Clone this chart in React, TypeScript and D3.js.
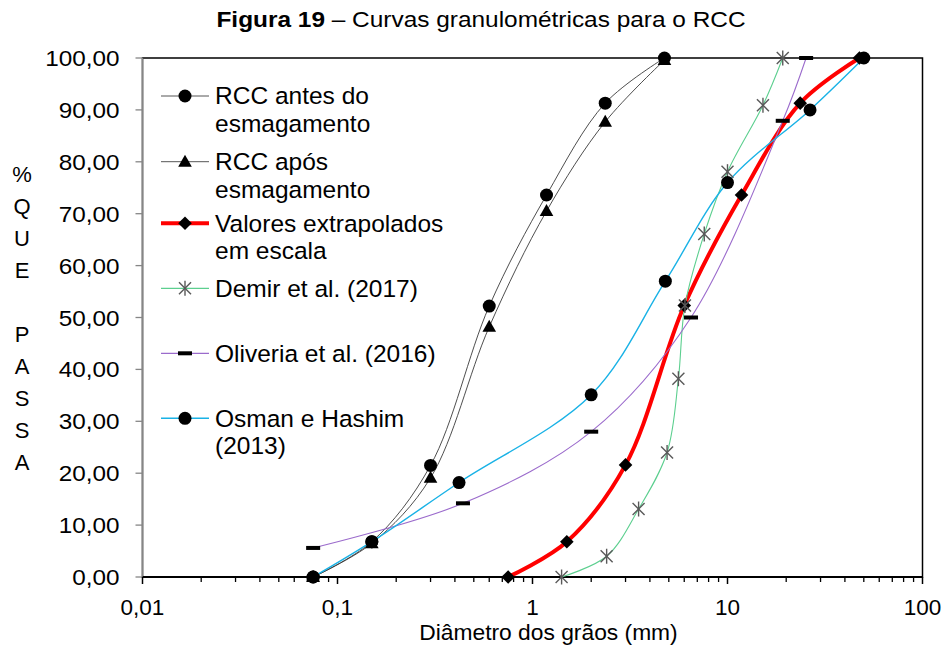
import React from "react";
import * as d3 from "d3";

// ---- Data ----
const rccDiam = [0.075, 0.15, 0.3, 0.6, 1.18, 2.36, 4.75];
const rccAntes = [0, 6.8, 21.5, 52.2, 73.6, 91.3, 100];
const rccApos = [0, 6.5, 19.1, 48.2, 70.5, 87.7, 99.6];
const extrapDiam = [0.75, 1.5, 3, 6, 11.8, 23.6, 47.5];
const extrapVal = [0, 6.8, 21.6, 52.3, 73.6, 91.3, 100];
const demirDiam = [1.41, 2.4, 3.5, 4.9, 5.6, 6.05, 7.6, 10, 15.2, 19.2];
const demirVal = [0, 4, 13.1, 24, 38.2, 52.3, 66.1, 78.1, 90.9, 100];
const oliveiraDiam = [0.075, 0.44, 2, 6.5, 19.2, 25.3];
const oliveiraVal = [5.6, 14.2, 28, 50, 87.9, 100];
const osmanDiam = [0.075, 0.15, 0.42, 2, 4.8, 10, 26.5, 50];
const osmanVal = [0, 6.8, 18.2, 35.1, 57, 76, 90, 100];

const xMajor = [0.01, 0.1, 1, 10, 100];
const xMajorLabels = ["0,01", "0,1", "1", "10", "100"];
const yTicks = [0, 10, 20, 30, 40, 50, 60, 70, 80, 90, 100];
const yTitle = ["%", "Q", "U", "E", "", "P", "A", "S", "S", "A"];

const legendLabels = [
  ["RCC antes do", "esmagamento"],
  ["RCC após", "esmagamento"],
  ["Valores extrapolados", "em escala"],
  ["Demir et al. (2017)"],
  ["Oliveria et al. (2016)"],
  ["Osman e Hashim", "(2013)"],
];

const FONT = "Arial, 'Liberation Sans', Helvetica, sans-serif";

type Marker = "circle" | "triangle" | "diamond" | "asterisk" | "dash";

function MarkerShape({ type, x, y }: { type: Marker; x: number; y: number }) {
  if (type === "circle") return <circle cx={x} cy={y} r={6.5} fill="#000" />;
  if (type === "triangle")
    return <path d={`M${x},${y - 7}L${x + 6.8},${y + 5}L${x - 6.8},${y + 5}Z`} fill="#000" />;
  if (type === "diamond")
    return <path d={`M${x},${y - 6.8}L${x + 6.8},${y}L${x},${y + 6.8}L${x - 6.8},${y}Z`} fill="#000" />;
  if (type === "dash") return <rect x={x - 7} y={y - 2} width={14} height={4} fill="#000" />;
  return (
    <g stroke="#595959" strokeWidth={1.4}>
      <line x1={x - 6} y1={y - 6} x2={x + 6} y2={y + 6} />
      <line x1={x - 6} y1={y + 6} x2={x + 6} y2={y - 6} />
      <line x1={x} y1={y - 7.5} x2={x} y2={y + 7.5} />
    </g>
  );
}

export default function App() {
  const left = 142.5, right = 922.5, top = 58, bottom = 577;
  const x = d3.scaleLog().domain([0.01, 100]).range([left, right]);
  const y = d3.scaleLinear().domain([0, 100]).range([bottom, top]);

  const series: { d: number[]; v: number[]; color: string; width: number; marker: Marker }[] = [
    { d: rccDiam, v: rccAntes, color: "#3a3a3a", width: 0.9, marker: "circle" },
    { d: rccDiam, v: rccApos, color: "#3a3a3a", width: 0.9, marker: "triangle" },
    { d: extrapDiam, v: extrapVal, color: "#ff0000", width: 4, marker: "diamond" },
    { d: demirDiam, v: demirVal, color: "#5ccf8f", width: 1.1, marker: "asterisk" },
    { d: oliveiraDiam, v: oliveiraVal, color: "#9b6bcc", width: 1.1, marker: "dash" },
    { d: osmanDiam, v: osmanVal, color: "#19b2e6", width: 1.4, marker: "circle" },
  ];

  const line = d3
    .line<[number, number]>()
    .x((p) => x(p[0]))
    .y((p) => y(p[1]))
    .curve(d3.curveCatmullRom.alpha(0.5));

  const minor: number[] = [];
  [0.01, 0.1, 1, 10].forEach((dec) => {
    for (let k = 2; k <= 9; k++) minor.push(dec * k);
  });

  const legendY = [96, 161.7, 223.3, 288.3, 353.3, 418.3];
  const legendColors = ["#555", "#555", "#ff0000", "#5ccf8f", "#9b6bcc", "#19b2e6"];
  const legendWidths = [1, 1, 4, 1.2, 1.2, 1.6];

  return (
    <svg
      width={948}
      height={648}
      style={{ position: "absolute", left: 0, top: 0, background: "#fff" }}
      fontFamily={FONT}
    >
      <rect width={948} height={648} fill="#fff" />
      {/* Title */}
      <text transform="translate(481,27) scale(1.11,1)" textAnchor="middle" fontSize={22} fill="#000">
        <tspan fontWeight="bold">Figura 19</tspan>
        <tspan> – Curvas granulométricas para o RCC</tspan>
      </text>

      {/* Plot border */}
      <rect x={left} y={top} width={right - left} height={bottom - top} fill="none" stroke="#000" strokeWidth={1.5} />
      <line x1={left} y1={top} x2={left} y2={bottom} stroke="#868686" strokeWidth={1.5} />
      <line x1={left} y1={bottom} x2={right} y2={bottom} stroke="#000" strokeWidth={2} />

      {/* Y ticks */}
      {yTicks.map((t) => (
        <g key={t}>
          <line x1={left - 7} x2={left} y1={y(t)} y2={y(t)} stroke="#868686" strokeWidth={1.3} />
          <text
            transform={`translate(119.5,${y(t) + 8}) scale(1.08,1)`}
            textAnchor="end"
            fontSize={22.5}
            fill="#000"
          >
            {t.toFixed(2).replace(".", ",")}
          </text>
        </g>
      ))}

      {/* X ticks */}
      {minor.map((m) => (
        <line key={m} x1={x(m)} x2={x(m)} y1={bottom} y2={bottom + 5} stroke="#000" strokeWidth={1.3} />
      ))}
      {xMajor.map((m, i) => (
        <g key={m}>
          <line x1={x(m)} x2={x(m)} y1={bottom} y2={bottom + 7} stroke="#000" strokeWidth={1.5} />
          <text x={x(m)} y={615} textAnchor="middle" fontSize={22.5} fill="#000">
            {xMajorLabels[i]}
          </text>
        </g>
      ))}

      {/* Axis titles */}
      <text x={548.5} y={640} textAnchor="middle" fontSize={22.8} fill="#000">
        Diâmetro dos grãos (mm)
      </text>
      {yTitle.map((c, i) => (
        <text key={i} x={22} y={174 + 32 * i + 8} textAnchor="middle" fontSize={22} fill="#000">
          {c}
        </text>
      ))}

      {/* Series lines */}
      {series.map((s, i) => (
        <path
          key={"l" + i}
          d={line(s.d.map((dv, j) => [dv, s.v[j]] as [number, number])) || ""}
          fill="none"
          stroke={s.color}
          strokeWidth={s.width}
        />
      ))}
      {/* Series markers */}
      {series.map((s, i) => (
        <g key={"m" + i}>
          {s.d.map((dv, j) => (
            <MarkerShape key={j} type={s.marker} x={x(dv)} y={y(s.v[j])} />
          ))}
        </g>
      ))}

      {/* Legend */}
      {legendLabels.map((lab, i) => (
        <g key={"lg" + i}>
          <line
            x1={161}
            x2={209}
            y1={legendY[i]}
            y2={legendY[i]}
            stroke={legendColors[i]}
            strokeWidth={legendWidths[i]}
          />
          <MarkerShape type={series[i].marker} x={185} y={legendY[i]} />
          {lab.map((t, k) => (
            <text key={k} x={215} y={legendY[i] + 8.3 + k * 27.5} fontSize={24.5} fill="#000">
              {t}
            </text>
          ))}
        </g>
      ))}
    </svg>
  );
}
